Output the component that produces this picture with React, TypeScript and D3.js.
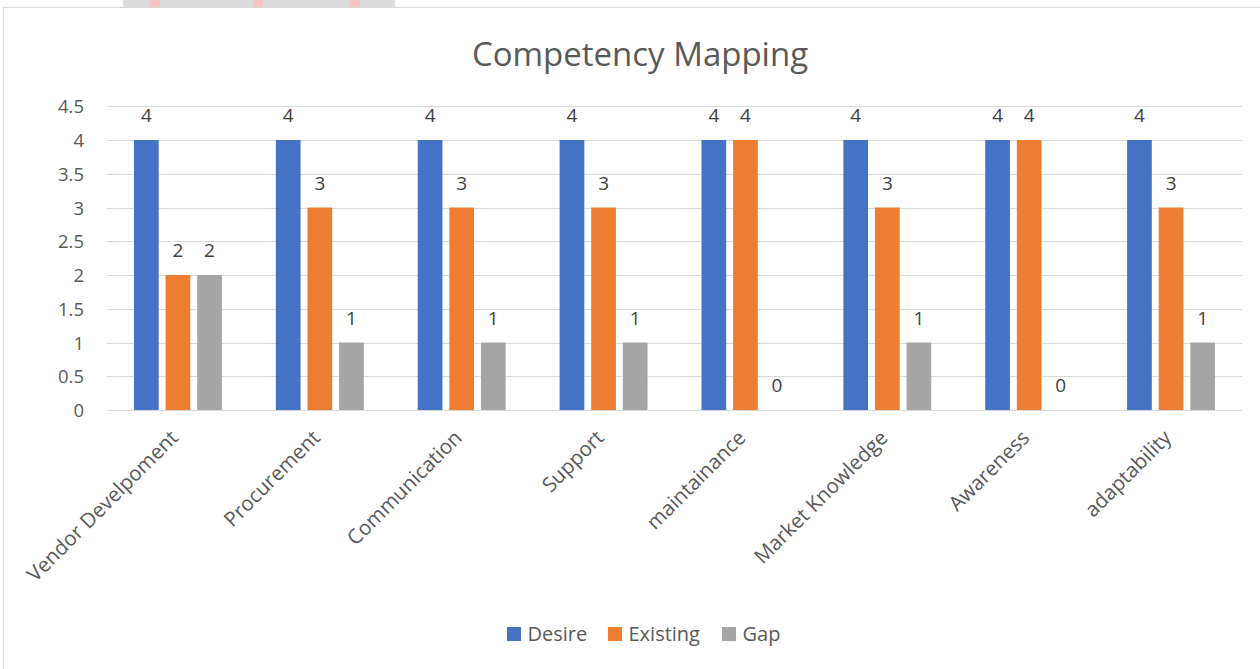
import React from "react";
import * as d3 from "d3";

const categories = ["Vendor Develpoment", "Procurement", "Communication", "Support", "maintainance", "Market Knowledge", "Awareness", "adaptability"];
const desire = [4, 4, 4, 4, 4, 4, 4, 4];
const existing = [2, 3, 3, 3, 4, 3, 4, 3];
const gap = [2, 1, 1, 1, 0, 1, 0, 1];
const seriesNames = ["Desire", "Existing", "Gap"];
const seriesColors = ["#4472C4", "#ED7D31", "#A5A5A5"];
const yTicks = [0, 0.5, 1, 1.5, 2, 2.5, 3, 3.5, 4, 4.5];

const W = 1260, H = 669;
const FONT = "'Open Sans', 'Noto Sans', sans-serif";

export default function App() {
  const series = [desire, existing, gap];
  const x = d3.scaleBand<string>().domain(categories).range([107, 1242]);
  const barW = 24.7;
  const barStep = 31.6;
  const y = d3.scaleLinear().domain([0, 4.5]).range([410, 106.25]);

  return (
    <div style={{ position: "absolute", left: 0, top: 0 }}>
      <svg width={W} height={H} style={{ display: "block" }}>
        <rect x={0} y={0} width={W} height={H} fill="#fff" />
        <rect x={123} y={0} width={272} height={7} fill="#dcdcdc" />
        <rect x={150} y={0} width={10} height={7} fill="#f6c6c6" />
        <rect x={253} y={0} width={10} height={7} fill="#f6c6c6" />
        <rect x={350} y={0} width={10} height={7} fill="#f6c6c6" />
        <rect x={3.5} y={7.5} width={W + 10} height={H + 10} fill="#fff" stroke="#d9d9d9" strokeWidth={1} />
        <text x={640} y={66} textAnchor="middle" fontFamily={FONT} fontSize={33} fill="#595959">Competency Mapping</text>
        {yTicks.map((t) => (
          <g key={t}>
            <line x1={107} x2={1242} y1={Math.round(y(t)) + 0.5} y2={Math.round(y(t)) + 0.5} stroke="#d9d9d9" strokeWidth={1} />
            <text x={84} y={y(t) + 7} textAnchor="end" fontFamily={FONT} fontSize={18.5} fill="#595959">{t}</text>
          </g>
        ))}
        {categories.map((c, i) => {
          const cx = (x(c) as number) + x.bandwidth() / 2;
          return (
            <g key={c}>
              {series.map((s, j) => {
                const bx = cx + (j - 1) * barStep - barW / 2;
                return (
                  <g key={j}>
                    <rect x={bx} y={y(s[i])} width={barW} height={y(0) - y(s[i])} fill={seriesColors[j]} />
                    <text x={bx + barW / 2} y={y(s[i]) - 18} textAnchor="middle" fontFamily={FONT} fontSize={19} fill="#404040">{s[i]}</text>
                  </g>
                );
              })}
              <text
                transform={`translate(${cx + 1.5},${439}) rotate(-45)`}
                textAnchor="end"
                fontFamily={FONT}
                fontSize={20.5}
                fill="#595959"
              >{c}</text>
            </g>
          );
        })}
        {seriesNames.map((n, j) => {
          const lx = [507, 608, 722][j];
          return (
            <g key={n}>
              <rect x={lx} y={627} width={14} height={14} fill={seriesColors[j]} />
              <text x={lx + 20.5} y={641} fontFamily={FONT} fontSize={20} fill="#595959">{n}</text>
            </g>
          );
        })}
      </svg>
    </div>
  );
}
